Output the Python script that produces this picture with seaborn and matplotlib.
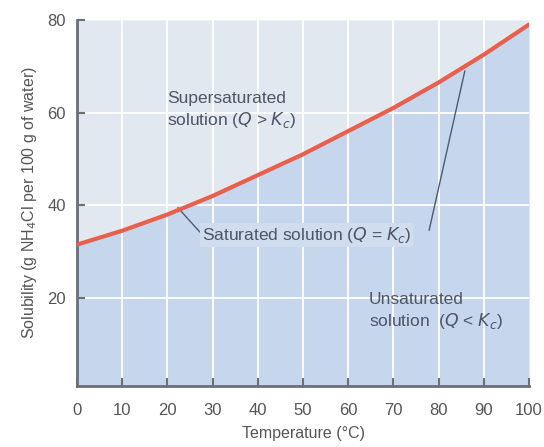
import numpy as np
import pandas as pd
import seaborn as sns
import matplotlib.pyplot as plt

# Solubility of NH4Cl
temperature = [0, 10, 20, 30, 40, 50, 60, 70, 80, 90, 100]
solubility = [31.5, 34.5, 38.0, 42.0, 46.5, 51.0, 56.0, 61.0, 66.5, 72.5, 79.0]
x_ticks = [0, 10, 20, 30, 40, 50, 60, 70, 80, 90, 100]
y_ticks = [20, 40, 60, 80]

df = pd.DataFrame({"temp": temperature, "sol": solubility})

sns.set_theme(style="white")
plt.rcParams['font.family'] = ['Liberation Sans Narrow', 'Liberation Sans', 'DejaVu Sans']

fig = plt.figure(figsize=(5.44, 4.47), dpi=100)
ax = fig.add_axes([0.1415, 0.1365, 0.831, 0.819])
ax.set_axisbelow(False)

text_col = "#4e5566"
grey = "#6b6f76"

# regions above / below the saturation curve
ax.fill_between(df["temp"], df["sol"], 80, color="#e2e8f0", lw=0, zorder=0)
ax.fill_between(df["temp"], 0, df["sol"], color="#c6d7ed", lw=0, zorder=0)

for xv in x_ticks[1:-1]:
    ax.axvline(xv, color="white", lw=1.4, alpha=0.9, zorder=1)
for yv in y_ticks[:-1]:
    ax.axhline(yv, color="white", lw=1.4, alpha=0.9, zorder=1)

sns.lineplot(data=df, x="temp", y="sol", color="#e8604c", lw=3, ax=ax, zorder=4)

ax.set_xlim(0, 100)
ax.set_ylim(1, 80)
ax.set_xticks(x_ticks)
ax.set_yticks(y_ticks)
ax.tick_params(bottom=True, left=True, direction="in", length=6, width=1.5, color=grey,
               labelcolor="#555555", labelsize=12)
ax.tick_params(axis="x", pad=12)
ax.tick_params(axis="y", pad=8)
for s in ["top", "right"]:
    ax.spines[s].set_visible(False)
for s in ["left", "bottom"]:
    ax.spines[s].set_color(grey)
    ax.spines[s].set_linewidth(2)

ax.set_xlabel("Temperature (°C)", color="#555555", fontsize=11.5, labelpad=6)
ax.set_ylabel("Solubility (g NH$_4$Cl per 100 g of water)", color="#555555",
              fontsize=11.5, labelpad=6)

ax.text(19.9, 60.5, "Supersaturated\nsolution ($Q$ > $K_c$)", color=text_col,
        fontsize=12.5, va="center", ha="left", linespacing=1.3, zorder=5)
ax.text(27.6, 33.6, "Saturated solution ($Q$ = $K_c$)", color=text_col,
        fontsize=12.5, va="center", ha="left", zorder=5,
        bbox=dict(boxstyle="square,pad=0.1", fc="#d0ddef", ec="none"))
ax.text(64.6, 17.1, "Unsaturated\nsolution  ($Q$ < $K_c$)", color=text_col,
        fontsize=12.5, va="center", ha="left", linespacing=1.3, zorder=5)

# leader lines from the label to the curve
ax.plot([22.3, 27.2], [39.5, 34.2], color="#4d5a75", lw=1, zorder=3)
ax.plot([77.9, 85.8], [34.6, 69.0], color="#4d5a75", lw=1, zorder=3)

fig.savefig("out.png", dpi=100)
